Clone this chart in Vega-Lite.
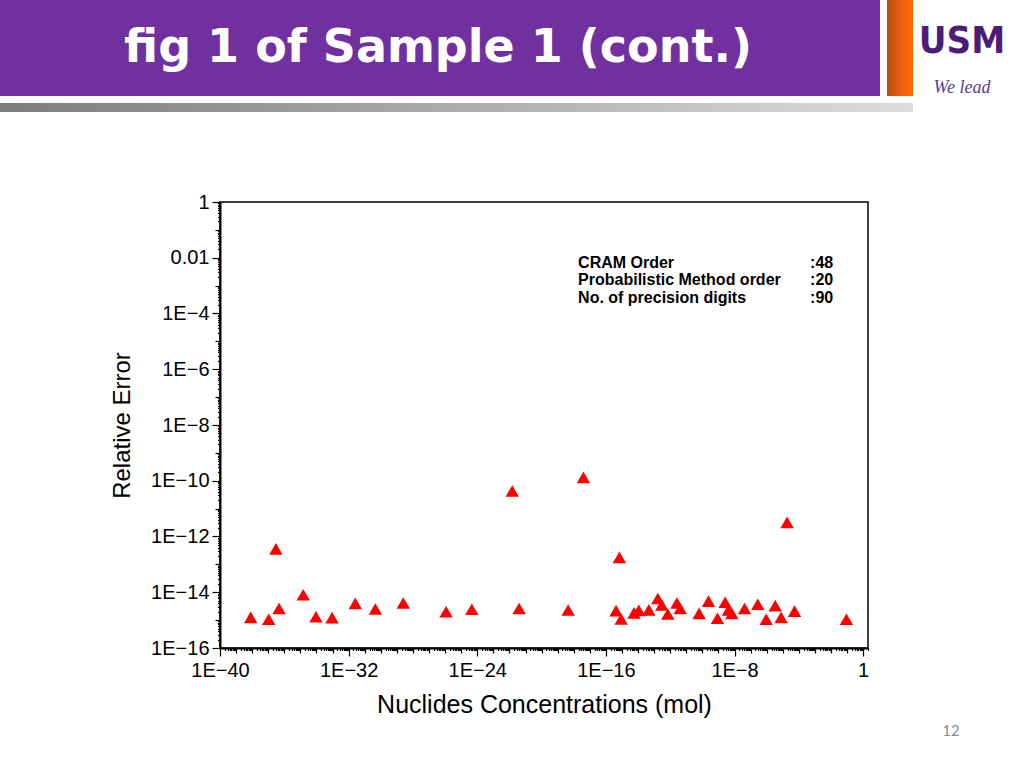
{
  "$schema": "https://vega.github.io/schema/vega-lite/v6.json",
  "background": "white",
  "padding": 0,
  "spacing": 0,
  "bounds": "flush",
  "config": {"view": {"stroke": null}, "concat": {"spacing": 0}},
  "datasets": {
    "nuclides": [
      {"concentration": 8.1e-39, "relative_error": 1.26e-15},
      {"concentration": 1.07e-37, "relative_error": 1.07e-15},
      {"concentration": 3.0e-37, "relative_error": 3.6e-13},
      {"concentration": 4.7e-37, "relative_error": 2.6e-15},
      {"concentration": 1.5e-35, "relative_error": 8.1e-15},
      {"concentration": 9.3e-35, "relative_error": 1.32e-15},
      {"concentration": 9.3e-34, "relative_error": 1.23e-15},
      {"concentration": 2.6e-32, "relative_error": 4.0e-15},
      {"concentration": 4.6e-31, "relative_error": 2.5e-15},
      {"concentration": 2.5e-29, "relative_error": 4.1e-15},
      {"concentration": 1.15e-26, "relative_error": 2.0e-15},
      {"concentration": 4.6e-25, "relative_error": 2.45e-15},
      {"concentration": 1.5e-22, "relative_error": 4.3e-11},
      {"concentration": 4.0e-22, "relative_error": 2.6e-15},
      {"concentration": 4.5e-19, "relative_error": 2.3e-15},
      {"concentration": 4.0e-18, "relative_error": 1.32e-10},
      {"concentration": 6.9e-16, "relative_error": 1.78e-13},
      {"concentration": 4.3e-16, "relative_error": 2.2e-15},
      {"concentration": 8.9e-16, "relative_error": 1.1e-15},
      {"concentration": 5.6e-15, "relative_error": 1.82e-15},
      {"concentration": 1.12e-14, "relative_error": 2.24e-15},
      {"concentration": 4.7e-14, "relative_error": 2.34e-15},
      {"concentration": 1.7e-13, "relative_error": 6.0e-15},
      {"concentration": 3.0e-13, "relative_error": 3.5e-15},
      {"concentration": 7.1e-13, "relative_error": 1.66e-15},
      {"concentration": 2.6e-12, "relative_error": 4.1e-15},
      {"concentration": 4.2e-12, "relative_error": 2.6e-15},
      {"concentration": 6.3e-11, "relative_error": 1.74e-15},
      {"concentration": 2.4e-10, "relative_error": 4.8e-15},
      {"concentration": 8.7e-10, "relative_error": 1.17e-15},
      {"concentration": 2.6e-9, "relative_error": 4.4e-15},
      {"concentration": 4.2e-9, "relative_error": 2.3e-15},
      {"concentration": 6.8e-9, "relative_error": 1.74e-15},
      {"concentration": 4.2e-8, "relative_error": 2.6e-15},
      {"concentration": 2.8e-7, "relative_error": 3.7e-15},
      {"concentration": 9.3e-7, "relative_error": 1.07e-15},
      {"concentration": 3.4e-6, "relative_error": 3.3e-15},
      {"concentration": 7.9e-6, "relative_error": 1.26e-15},
      {"concentration": 1.86e-5, "relative_error": 3.2e-12},
      {"concentration": 5.4e-5, "relative_error": 2.1e-15},
      {"concentration": 0.091, "relative_error": 1.07e-15}
    ]
  },
  "vconcat": [
    {
      "spacing": 0,
      "bounds": "flush",
      "hconcat": [
        {
          "width": 880, "height": 96,
          "view": {"fill": "#7030A0", "stroke": null},
          "data": {"values": [{}]},
          "mark": {"type": "text", "text": "fig 1 of Sample 1 (cont.)", "font": "DejaVu Sans", "fontWeight": "bold", "fontSize": 46, "color": "#FFFFFF", "dx": -2}
        },
        {
          "width": 7, "height": 96,
          "data": {"values": []},
          "mark": "point"
        },
        {
          "width": 26, "height": 96,
          "view": {"stroke": null, "fill": {"gradient": "linear", "x1": 0, "y1": 0, "x2": 1, "y2": 0, "stops": [{"offset": 0, "color": "#B4500F"}, {"offset": 0.6, "color": "#F06010"}, {"offset": 1, "color": "#FF6A00"}]}},
          "data": {"values": []},
          "mark": "point"
        },
        {
          "width": 98, "height": 96,
          "data": {"values": [{}]},
          "layer": [
            {"mark": {"type": "text", "text": "USM", "font": "Liberation Sans Narrow, DejaVu Sans Condensed, Arial Narrow, sans-serif", "fontWeight": "bold", "fontSize": 38, "color": "#4B1C78", "dy": -6}},
            {"mark": {"type": "text", "text": "We lead", "font": "Liberation Serif", "fontStyle": "italic", "fontSize": 18, "color": "#5A3C8C", "dy": 40}}
          ]
        }
      ]
    },
    {"width": 10, "height": 103, "data": {"values": []}, "mark": "point"},
    {
      "width": 913, "height": 9,
      "view": {"stroke": null, "fill": {"gradient": "linear", "x1": 0, "y1": 0, "x2": 1, "y2": 0, "stops": [{"offset": 0, "color": "#7C7C7C"}, {"offset": 1, "color": "#DCDCDC"}]}},
      "data": {"values": []},
      "mark": "point"
    },
    {"width": 10, "height": 90, "data": {"values": []}, "mark": "point"},
    {
      "spacing": 0,
      "bounds": "flush",
      "hconcat": [
        {"width": 220, "height": 446, "data": {"values": []}, "mark": "point"},
        {
          "width": 648, "height": 446,
          "view": {"stroke": "#000000", "strokeWidth": 1.5, "fill": "white"},
          "layer": [
            {
              "data": {"name": "nuclides"},
              "mark": {"type": "point", "shape": "triangle-up", "filled": true, "color": "#FF0000", "size": 180, "opacity": 1},
              "encoding": {
                "x": {
                  "field": "concentration", "type": "quantitative",
                  "scale": {"type": "log", "domain": [1e-40, 2], "nice": false},
                  "axis": {
                    "title": "Nuclides Concentrations (mol)",
                    "tickCount": 50,
                    "grid": false,
                    "labelOverlap": false,
                    "labelFlush": false,
                    "labelExpr": "(abs(datum.value/pow(10,round(log(datum.value)/LN10))-1)<1e-6 && round(log(datum.value)/LN10)%8==0) ? (round(log(datum.value)/LN10)==0 ? '1' : '1E−'+(-round(log(datum.value)/LN10))) : ''",
                    "tickSize": {"expr": "abs(datum.value/pow(10,round(log(datum.value)/LN10))-1)<1e-6 ? (round(log(datum.value)/LN10)%8==0 ? 8 : 5) : 2.5"},
                    "tickColor": "#000000", "tickWidth": 1.2,
                    "domainColor": "#000000", "domainWidth": 2,
                    "labelFont": "Liberation Sans", "labelFontSize": 20, "labelColor": "#000000", "labelPadding": 4,
                    "titleFont": "Liberation Sans", "titleFontSize": 25, "titleFontWeight": "normal", "titleColor": "#000000", "titlePadding": 12
                  }
                },
                "y": {
                  "field": "relative_error", "type": "quantitative",
                  "scale": {"type": "log", "domain": [1e-16, 1], "nice": false},
                  "axis": {
                    "title": "Relative Error",
                    "tickCount": 20,
                    "grid": false,
                    "labelOverlap": false,
                    "labelFlush": false,
                    "labelExpr": "(abs(datum.value/pow(10,round(log(datum.value)/LN10))-1)<1e-6 && round(log(datum.value)/LN10)%2==0) ? (round(log(datum.value)/LN10)==0 ? '1' : (round(log(datum.value)/LN10)==-2 ? '0.01' : '1E−'+(-round(log(datum.value)/LN10)))) : ''",
                    "tickSize": {"expr": "abs(datum.value/pow(10,round(log(datum.value)/LN10))-1)<1e-6 ? (round(log(datum.value)/LN10)%2==0 ? 8 : 5) : 2.5"},
                    "tickColor": "#000000", "tickWidth": 1.2,
                    "domainColor": "#000000", "domainWidth": 2,
                    "labelFont": "Liberation Sans", "labelFontSize": 20, "labelColor": "#000000", "labelPadding": 3,
                    "titleFont": "Liberation Sans", "titleFontSize": 24, "titleFontWeight": "normal", "titleColor": "#000000", "titlePadding": 16
                  }
                }
              }
            },
            {
              "data": {"values": [{}]},
              "mark": {"type": "text", "text": ["CRAM Order", "Probabilistic Method order", "No. of precision digits"], "font": "Liberation Sans", "fontWeight": "bold", "fontSize": 16, "lineHeight": 17.5, "align": "left", "baseline": "top", "color": "#000000"},
              "encoding": {"x": {"datum": 1.86e-18}, "y": {"datum": 0.0126}}
            },
            {
              "data": {"values": [{}]},
              "mark": {"type": "text", "text": [":48", ":20", ":90"], "font": "Liberation Sans", "fontWeight": "bold", "fontSize": 16, "lineHeight": 17.5, "align": "left", "baseline": "top", "color": "#000000"},
              "encoding": {"x": {"datum": 5.0e-4}, "y": {"datum": 0.0126}}
            }
          ]
        }
      ]
    },
    {"width": 10, "height": 519, "data": {"values": []}, "mark": "point"},
    {
      "spacing": 0,
      "bounds": "flush",
      "hconcat": [
        {"width": 935, "height": 20, "data": {"values": []}, "mark": "point"},
        {
          "width": 32, "height": 20,
          "data": {"values": [{}]},
          "mark": {"type": "text", "text": "12", "font": "Lato", "fontSize": 15, "color": "#8C8C8C"}
        }
      ]
    }
  ]
}
